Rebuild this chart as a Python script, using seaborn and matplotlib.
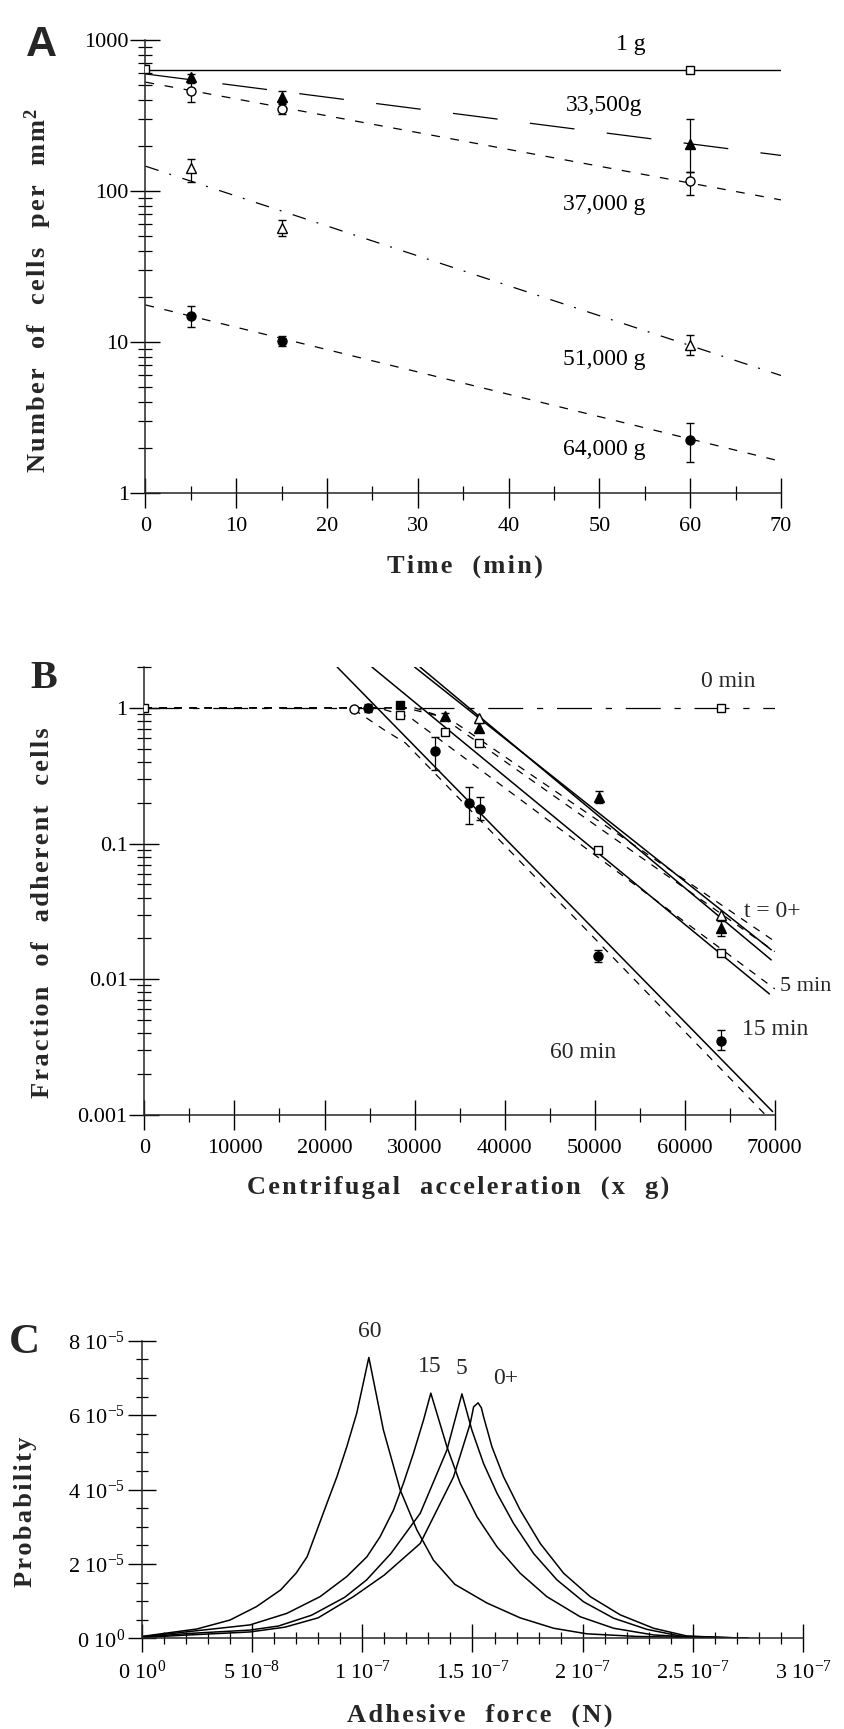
import numpy as np
import matplotlib
matplotlib.use("Agg")
import matplotlib.pyplot as plt
import seaborn as sns
from matplotlib.ticker import FixedLocator, FixedFormatter, NullFormatter, LogLocator

# ---------------- Panel A data (cells per mm^2 vs time) ----------------
a_t = [5, 15, 60]
a_1g_t = [0, 60]
a_1g = [645, 633]
a_1g_lo = [610, 605]
a_1g_hi = [680, 662]
a_33500 = [571, 421, 205]
a_33500_lo = [545, 385, 134]
a_33500_hi = [598, 462, 300]
a_37000 = [459, 348, 116]
a_37000_lo = [391, 322, 94]
a_37000_hi = [517, 378, 134]
a_51000 = [141, 56.6, 9.6]
a_51000_lo = [115, 50, 8.2]
a_51000_hi = [164, 64, 11.1]
a_64000 = [14.9, 10.2, 2.24]
a_64000_lo = [12.6, 9.4, 1.61]
a_64000_hi = [17.3, 11.0, 2.9]
a_fit_t = [0, 70]
a_fit_1g = [633, 633]
a_fit_33500 = [596, 172]
a_fit_37000 = [526, 87.3]
a_fit_51000 = [146, 6.0]
a_fit_64000 = [17.6, 1.62]
a_labels = ["1 g", "33,500g", "37,000 g", "51,000 g", "64,000 g"]
a_label_x = [53.5, 50.5, 50.5, 50.5, 50.5]
a_label_y = [930, 370, 81, 7.6, 1.93]
a_yticks = [1, 10, 100, 1000]
a_yticklabels = ["1", "10", "100", "1000"]
a_xticks = [0, 10, 20, 30, 40, 50, 60, 70]

# ---------------- Panel B data (fraction vs acceleration) ----------------
b_ftri_x = [33400, 37200, 50500, 64000]
b_ftri_y = [0.87, 0.71, 0.222, 0.0238]
b_ftri_lo = [0.83, 0.66, 0.20, 0.021]
b_ftri_hi = [0.91, 0.77, 0.245, 0.027]
b_otri_x = [37100, 64000]
b_otri_y = [0.84, 0.030]
b_osq_x = [0, 28400, 33400, 37200, 50400, 64000]
b_osq_y = [1.0, 0.89, 0.66, 0.55, 0.090, 0.0156]
b_fsq_x = [28400]
b_fsq_y = [1.05]
b_ocirc_x = [23300]
b_ocirc_y = [0.98]
b_fcirc_x = [24800, 32300, 36000, 37300, 50400, 64000]
b_fcirc_y = [1.0, 0.48, 0.20, 0.18, 0.0149, 0.0035]
b_fcirc_lo = [0.93, 0.35, 0.14, 0.15, 0.0133, 0.0030]
b_fcirc_hi = [1.07, 0.61, 0.26, 0.22, 0.0165, 0.0042]
b_0min_x = [0, 70000]
b_0min_y = [1.0, 1.0]
b_0min_pt_x = [64000]
b_0min_pt_y = [1.0]
b_L60_x = [21400, 69750]
b_L60_y = [2.0, 0.00106]
b_L15_x = [25260, 69400]
b_L15_y = [2.0, 0.0078]
b_L5_x = [30600, 69600]
b_L5_y = [2.0, 0.0139]
b_L0_x = [30000, 69600]
b_L0_y = [2.0, 0.0165]
b_D60_x = [0, 23000, 26600, 29000, 70000]
b_D60_y = [1.0, 1.0, 0.69, 0.55, 0.00085]
b_D15_x = [0, 26000, 29500, 70000]
b_D15_y = [1.0, 1.0, 0.85, 0.0085]
b_D5_x = [0, 29000, 33000, 70000]
b_D5_y = [1.0, 1.0, 0.86, 0.016]
b_D0_x = [0, 30000, 34000, 70000]
b_D0_y = [1.0, 1.0, 0.82, 0.019]
b_xticks = [0, 10000, 20000, 30000, 40000, 50000, 60000, 70000]
b_yticks = [0.001, 0.01, 0.1, 1]
b_yticklabels = ["0.001", "0.01", "0.1", "1"]

# ---------------- Panel C data (probability vs adhesive force) ----------------
c60_f = np.array([0, 2.5, 4.0, 5.2, 6.3, 7.0, 7.5, 7.95, 8.4, 8.85, 9.3, 9.75, 10.3,
                  10.96, 11.72, 12.48, 13.23, 14.2, 15.65, 17.16, 18.68, 20.19, 22.46, 25.0, 27.5]) * 1e-8
c60_p = np.array([0.05, 0.25, 0.49, 0.85, 1.30, 1.75, 2.19, 2.91, 3.63, 4.34, 5.15, 6.05, 7.55,
                  5.60, 3.99, 2.91, 2.10, 1.45, 0.95, 0.55, 0.27, 0.12, 0.05, 0.02, 0.0]) * 1e-5
c15_f = np.array([0, 2.13, 4.91, 6.58, 8.09, 9.30, 10.21, 10.81, 11.42, 11.87, 12.32, 12.78, 13.11,
                  13.84, 14.44, 15.20, 16.11, 17.16, 18.37, 19.88, 21.40, 23.21, 25.0, 27.5]) * 1e-8
c15_p = np.array([0.04, 0.18, 0.36, 0.67, 1.12, 1.66, 2.19, 2.73, 3.45, 4.17, 4.97, 5.87, 6.59,
                  5.15, 4.17, 3.27, 2.46, 1.75, 1.12, 0.58, 0.27, 0.09, 0.03, 0.0]) * 1e-5
c5_f = np.array([0, 2.13, 4.9, 6.2, 7.7, 9.2, 10.2, 11.3, 12.63, 13.84, 14.52,
                 14.97, 15.50, 16.11, 16.86, 17.77, 18.83, 20.04, 21.40, 22.91, 24.42, 27.5]) * 1e-8
c5_p = np.array([0.03, 0.13, 0.22, 0.33, 0.62, 1.10, 1.57, 2.28, 3.36, 5.06, 6.57,
                 5.60, 4.70, 3.90, 3.09, 2.28, 1.57, 0.98, 0.54, 0.24, 0.06, 0.0]) * 1e-5
c0_f = np.array([0, 2.13, 4.9, 6.5, 8.0, 9.6, 11.0, 12.63, 14.14, 14.9, 15.05, 15.25, 15.4,
                 15.50, 15.88, 16.41, 17.16, 18.07, 19.13, 20.34, 21.70, 23.21, 24.73, 27.5]) * 1e-8
c0_p = np.array([0.02, 0.09, 0.17, 0.30, 0.55, 1.12, 1.70, 2.55, 4.34, 5.78, 6.22, 6.33, 6.20,
                 5.96, 5.15, 4.34, 3.45, 2.55, 1.75, 1.12, 0.63, 0.27, 0.06, 0.0]) * 1e-5
c_labels = ["60", "15", "5", "0+"]
c_label_x = np.array([10.34, 13.05, 14.52, 16.48]) * 1e-8
c_label_y = np.array([8.24, 7.30, 7.26, 6.99]) * 1e-5
c_xticks = [0, 5e-8, 1e-7, 1.5e-7, 2e-7, 2.5e-7, 3e-7]
c_xticklabels = [r"0 10$^{0}$", r"5 10$^{-8}$", r"1 10$^{-7}$", r"1.5 10$^{-7}$",
                 r"2 10$^{-7}$", r"2.5 10$^{-7}$", r"3 10$^{-7}$"]
c_yticks = [0, 2e-5, 4e-5, 6e-5, 8e-5]
c_yticklabels = [r"0 10$^{0}$", r"2 10$^{-5}$", r"4 10$^{-5}$", r"6 10$^{-5}$", r"8 10$^{-5}$"]

# ---------------- style ----------------
sns.set_theme(style="ticks")
plt.rcParams["font.family"] = ["Liberation Serif", "DejaVu Serif"]
plt.rcParams["mathtext.fontset"] = "custom"
plt.rcParams["mathtext.rm"] = "Liberation Serif"
plt.rcParams["mathtext.it"] = "Liberation Serif:italic"
plt.rcParams["mathtext.bf"] = "Liberation Serif:bold"
plt.rcParams["axes.linewidth"] = 1.1
TICK = 16
ANN = 17
LAB = 19
K = "black"
HAIR = "\u200a"


def spaced(s):
    return HAIR.join(s)


W, H = 845, 1729
fig = plt.figure(figsize=(W / 100, H / 100), dpi=100)
fig.patch.set_facecolor("white")


def add_ax(l, r, t, b):
    return fig.add_axes([l / W, 1 - b / H, (r - l) / W, (b - t) / H])


def style_ax(ax):
    for s in ("top", "right"):
        ax.spines[s].set_visible(False)
    ax.set_facecolor("white")
    ax.grid(False)
    ax.tick_params(which="major", direction="inout", length=22, width=1.0, labelsize=TICK,
                   colors=K)
    ax.tick_params(which="minor", direction="inout", length=10, width=0.9, colors=K)
    ax.tick_params(axis="x", which="major", pad=6)
    ax.tick_params(axis="y", which="major", pad=1)


def line(ax, x, y, dashes=None, lw=0.9):
    sns.lineplot(x=list(x), y=list(y), ax=ax, color=K, lw=lw, sort=False, estimator=None)
    ln = ax.lines[-1]
    if dashes is not None:
        ln.set_dashes(dashes)
    return ln


def ebar(ax, x, y, lo=None, hi=None, marker="o", filled=True, ms=6.5):
    y = np.asarray(y, float)
    yerr = None
    if lo is not None:
        yerr = [y - np.asarray(lo), np.asarray(hi) - y]
    ax.errorbar(x, y, yerr=yerr, fmt=marker, ms=ms, mfc=K if filled else "white", mec=K,
                mew=1.0, ecolor=K, elinewidth=0.9, capsize=3, capthick=0.9, zorder=5)


# ================= Panel A =================
axA = add_ax(145.5, 781, 40, 493)
style_ax(axA)
axA.set_yscale("log")
axA.set_xlim(0, 70)
axA.set_ylim(1, 1000)
line(axA, a_fit_t, a_fit_1g, lw=1.0)
line(axA, a_fit_t, a_fit_33500, dashes=(36, 26))
line(axA, a_fit_t, a_fit_37000, dashes=(7, 8.5))
line(axA, a_fit_t, a_fit_51000, dashes=(11, 9, 1.5, 9.5))
line(axA, a_fit_t, a_fit_64000, dashes=(7, 8.5))
ebar(axA, a_1g_t, a_1g, a_1g_lo, a_1g_hi, marker="s", filled=False, ms=6)
ebar(axA, a_t, a_33500, a_33500_lo, a_33500_hi, marker="^", filled=True)
ebar(axA, a_t, a_37000, a_37000_lo, a_37000_hi, marker="o", filled=False)
ebar(axA, a_t, a_51000, a_51000_lo, a_51000_hi, marker="^", filled=False)
ebar(axA, a_t, a_64000, a_64000_lo, a_64000_hi, marker="o", filled=True)
for s, x, y in zip(a_labels, a_label_x, a_label_y):
    axA.text(x, y, s, ha="center", va="center", fontsize=ANN, color=K)
axA.xaxis.set_major_locator(FixedLocator(a_xticks))
axA.xaxis.set_minor_locator(FixedLocator([5, 15, 25, 35, 45, 55, 65]))
axA.yaxis.set_major_locator(FixedLocator(a_yticks))
axA.yaxis.set_major_formatter(FixedFormatter(a_yticklabels))
axA.yaxis.set_minor_locator(LogLocator(base=10, subs=np.arange(2, 10)))
axA.yaxis.set_minor_formatter(NullFormatter())
axA.set_xlabel(spaced("Time  (min)"), fontsize=LAB, fontweight="bold")
axA.xaxis.set_label_coords(0.503, -0.137)
axA.set_ylabel(spaced("Number  of  cells  per  mm") + r"$^{\mathbf{2}}$", fontsize=LAB,
               fontweight="bold")
axA.yaxis.set_label_coords(-0.144, 0.446)
fig.text(41 / W, 1 - 45 / H, "A", fontsize=31, fontweight="bold", family="Liberation Sans",
         ha="center", va="center")

# ================= Panel B =================
axB = add_ax(144.4, 774.8, 667, 1115)
style_ax(axB)
axB.set_yscale("log")
axB.set_xlim(0, 70000)
axB.set_ylim(0.001, 2.0)
for lx, ly in ((b_L60_x, b_L60_y), (b_L15_x, b_L15_y), (b_L5_x, b_L5_y), (b_L0_x, b_L0_y)):
    line(axB, lx, ly, lw=1.1)
for dx, dy in ((b_D60_x, b_D60_y), (b_D15_x, b_D15_y), (b_D5_x, b_D5_y), (b_D0_x, b_D0_y)):
    line(axB, dx, dy, dashes=(6, 6), lw=0.9)
line(axB, b_0min_x, b_0min_y, dashes=(28, 11, 5, 11), lw=0.9)
ebar(axB, b_0min_pt_x, b_0min_pt_y, marker="s", filled=False, ms=5.5)
ebar(axB, b_osq_x, b_osq_y, marker="s", filled=False, ms=6)
ebar(axB, b_fsq_x, b_fsq_y, marker="s", filled=True, ms=6)
ebar(axB, b_ocirc_x, b_ocirc_y, marker="o", filled=False, ms=6.5)
ebar(axB, b_otri_x, b_otri_y, marker="^", filled=False, ms=6.5)
ebar(axB, b_ftri_x, b_ftri_y, b_ftri_lo, b_ftri_hi, marker="^", filled=True)
ebar(axB, b_fcirc_x, b_fcirc_y, b_fcirc_lo, b_fcirc_hi, marker="o", filled=True)
axB.text(64800, 1.56, "0 min", ha="center", va="center", fontsize=ANN)
axB.text(66600, 0.0315, "t = 0+", ha="left", va="center", fontsize=ANN)
axB.text(70600, 0.0088, "5 min", ha="left", va="center", fontsize=ANN - 1, clip_on=False)
axB.text(66400, 0.00425, "15 min", ha="left", va="center", fontsize=ANN)
axB.text(48700, 0.0029, "60 min", ha="center", va="center", fontsize=ANN)
axB.xaxis.set_major_locator(FixedLocator(b_xticks))
axB.xaxis.set_minor_locator(FixedLocator([5000, 15000, 25000, 35000, 45000, 55000, 65000]))
axB.yaxis.set_major_locator(FixedLocator(b_yticks))
axB.yaxis.set_major_formatter(FixedFormatter(b_yticklabels))
axB.yaxis.set_minor_locator(LogLocator(base=10, subs=np.arange(2, 10)))
axB.yaxis.set_minor_formatter(NullFormatter())
axB.set_xlabel(spaced("Centrifugal  acceleration  (x  g)"), fontsize=LAB, fontweight="bold")
axB.xaxis.set_label_coords(0.497, -0.135)
axB.set_ylabel(spaced("Fraction  of  adherent  cells"), fontsize=LAB, fontweight="bold")
axB.yaxis.set_label_coords(-0.143, 0.451)
fig.text(44 / W, 1 - 679 / H, "B", fontsize=29, fontweight="bold", ha="center", va="center")

# ================= Panel C =================
axC = add_ax(141.7, 803.3, 1340.7, 1638.3)
style_ax(axC)
axC.set_xlim(0, 3e-7)
axC.set_ylim(0, 8e-5)
for f, p in ((c60_f, c60_p), (c15_f, c15_p), (c5_f, c5_p), (c0_f, c0_p)):
    line(axC, f, p, lw=1.1)
for s, x, y in zip(c_labels, c_label_x, c_label_y):
    axC.text(x, y, s, ha="center", va="center", fontsize=ANN, clip_on=False)
axC.xaxis.set_major_locator(FixedLocator(c_xticks))
axC.xaxis.set_major_formatter(FixedFormatter(c_xticklabels))
axC.xaxis.set_minor_locator(FixedLocator(np.arange(1, 30) * 1e-8))
axC.yaxis.set_major_locator(FixedLocator(c_yticks))
axC.yaxis.set_major_formatter(FixedFormatter(c_yticklabels))
axC.yaxis.set_minor_locator(FixedLocator(np.arange(1, 16) * 0.5e-5))
axC.tick_params(which="major", length=20)
axC.tick_params(which="minor", length=9)
axC.tick_params(axis="y", which="major", pad=2)
fig.text(480 / W, 2 / H, spaced("Adhesive  force  (N)"), fontsize=LAB, fontweight="bold",
         ha="center", va="bottom")
axC.set_ylabel(spaced("Probability"), fontsize=LAB, fontweight="bold")
axC.yaxis.set_label_coords(-0.158, 0.424)
fig.text(24 / W, 1 - 1343 / H, "C", fontsize=31, fontweight="bold", ha="center", va="center")

fig.savefig("out.png", dpi=100, facecolor="white")
